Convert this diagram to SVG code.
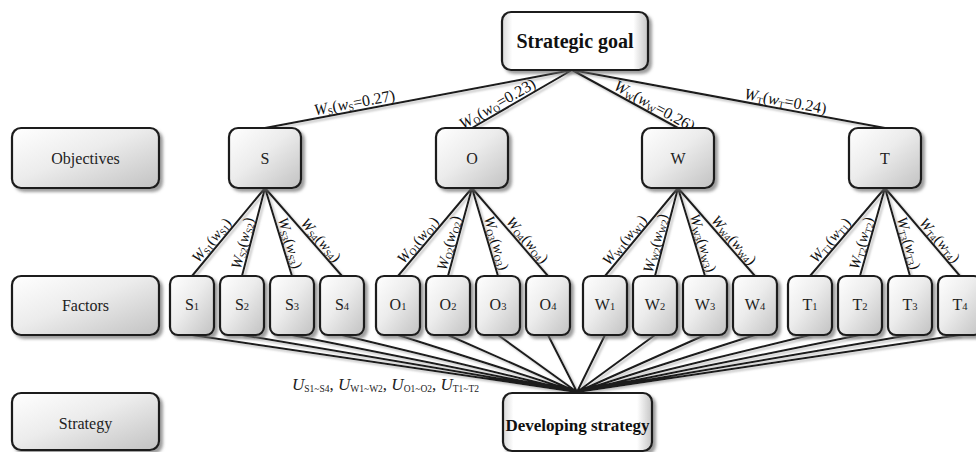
<svg xmlns="http://www.w3.org/2000/svg" width="976" height="452" viewBox="0 0 976 452">
<defs>
<linearGradient id="gg" x1="0" y1="0" x2="1" y2="1">
<stop offset="0" stop-color="#ffffff"/>
<stop offset="0.45" stop-color="#ececec"/>
<stop offset="1" stop-color="#c2c2c2"/>
</linearGradient>
<linearGradient id="wg" x1="0" y1="0" x2="1" y2="0">
<stop offset="0" stop-color="#d8d8d8"/>
<stop offset="0.07" stop-color="#ffffff"/>
<stop offset="0.9" stop-color="#ffffff"/>
<stop offset="1" stop-color="#c4c4c4"/>
</linearGradient>
<filter id="sh" x="-20%" y="-20%" width="140%" height="140%">
<feDropShadow dx="3" dy="3" stdDeviation="1.8" flood-color="#6a6a6a" flood-opacity="0.65"/>
</filter>
<filter id="lsh" x="-10%" y="-10%" width="120%" height="130%">
<feDropShadow dx="2" dy="2" stdDeviation="1.2" flood-color="#8a8a8a" flood-opacity="0.55"/>
</filter>
</defs>
<style>
.gb{fill:url(#gg);stroke:#1c1c1c;stroke-width:2.2;filter:url(#sh)}
.wb{fill:url(#wg);stroke:#1c1c1c;stroke-width:2.2;filter:url(#sh)}
.t{font-family:"Liberation Serif","Times New Roman",serif;fill:#222}
.nl{font-size:16px;text-anchor:middle}
.bd{font-weight:bold;fill:#111;text-anchor:middle}
.lb{font-family:"Liberation Serif","Times New Roman",serif;fill:#111;font-size:15px;text-anchor:middle}
.tl{font-size:16px}
.i{font-style:italic}
.sb{font-size:9.5px}
.fs{font-size:10.5px}
#connectors path{fill:none;stroke:#1c1c1c;stroke-width:2}
</style>
<rect width="976" height="452" fill="#ffffff"/>

<g id="connectors" filter="url(#lsh)">
<path d="M572,70 L265,128 M572,70 L472,128 M572,70 L678,128 M572,70 L885,128"/>
<path d="M265,188 L192,276 M265,188 L242,276 M265,188 L292,276 M265,188 L342,276"/>
<path d="M472,188 L398,276 M472,188 L448,276 M472,188 L498,276 M472,188 L548,276"/>
<path d="M678,188 L605,276 M678,188 L655,276 M678,188 L705,276 M678,188 L755,276"/>
<path d="M885,188 L810,276 M885,188 L860,276 M885,188 L910,276 M885,188 L960,276"/>
<path d="M192,335 L577,392 M242,335 L577,392 M292,335 L577,392 M342,335 L577,392 M398,335 L577,392 M448,335 L577,392 M498,335 L577,392 M548,335 L577,392 M605,335 L577,392 M655,335 L577,392 M705,335 L577,392 M755,335 L577,392 M810,335 L577,392 M860,335 L577,392 M910,335 L577,392 M960,335 L577,392"/>
</g>

<g id="edge-labels">
<text class="lb tl" transform="translate(355.4,107.9) rotate(-10.7)"><tspan class="i">W</tspan><tspan class="sb" dy="2">S</tspan><tspan dy="-2">(</tspan><tspan class="i">w</tspan><tspan class="sb" dy="2">S</tspan><tspan dy="-2">=0.27)</tspan></text>
<text class="lb tl" transform="translate(500,108.3) rotate(-30.1)"><tspan class="i">W</tspan><tspan class="sb" dy="2">O</tspan><tspan dy="-2">(</tspan><tspan class="i">w</tspan><tspan class="sb" dy="2">O</tspan><tspan dy="-2">=0.23)</tspan></text>
<text class="lb tl" transform="translate(652,110.4) rotate(28.7)"><tspan class="i">W</tspan><tspan class="sb" dy="2">W</tspan><tspan dy="-2">(</tspan><tspan class="i">w</tspan><tspan class="sb" dy="2">W</tspan><tspan dy="-2">=0.26)</tspan></text>
<text class="lb tl" transform="translate(784.5,106.4) rotate(10.5)"><tspan class="i">W</tspan><tspan class="sb" dy="2">T</tspan><tspan dy="-2">(</tspan><tspan class="i">w</tspan><tspan class="sb" dy="2">T</tspan><tspan dy="-2">=0.24)</tspan></text>

<text class="lb" transform="translate(215.2,243.3) rotate(-50.3)"><tspan class="i">W</tspan><tspan class="sb" dy="2">S1</tspan><tspan dy="-2">(</tspan><tspan class="i">w</tspan><tspan class="sb" dy="2">S1</tspan><tspan dy="-2">)</tspan></text>
<text class="lb" transform="translate(247.1,244.4) rotate(-75.3)"><tspan class="i">W</tspan><tspan class="sb" dy="2">S2</tspan><tspan dy="-2">(</tspan><tspan class="i">w</tspan><tspan class="sb" dy="2">S2</tspan><tspan dy="-2">)</tspan></text>
<text class="lb" transform="translate(285.4,244.3) rotate(72.9)"><tspan class="i">W</tspan><tspan class="sb" dy="2">S3</tspan><tspan dy="-2">(</tspan><tspan class="i">w</tspan><tspan class="sb" dy="2">S3</tspan><tspan dy="-2">)</tspan></text>
<text class="lb" transform="translate(317.3,243.2) rotate(48.8)"><tspan class="i">W</tspan><tspan class="sb" dy="2">S4</tspan><tspan dy="-2">(</tspan><tspan class="i">w</tspan><tspan class="sb" dy="2">S4</tspan><tspan dy="-2">)</tspan></text>

<text class="lb" transform="translate(421.6,243.3) rotate(-49.9)"><tspan class="i">W</tspan><tspan class="sb" dy="2">O1</tspan><tspan dy="-2">(</tspan><tspan class="i">w</tspan><tspan class="sb" dy="2">O1</tspan><tspan dy="-2">)</tspan></text>
<text class="lb" transform="translate(453.5,244.4) rotate(-74.7)"><tspan class="i">W</tspan><tspan class="sb" dy="2">O2</tspan><tspan dy="-2">(</tspan><tspan class="i">w</tspan><tspan class="sb" dy="2">O2</tspan><tspan dy="-2">)</tspan></text>
<text class="lb" transform="translate(491.8,244.4) rotate(73.5)"><tspan class="i">W</tspan><tspan class="sb" dy="2">O3</tspan><tspan dy="-2">(</tspan><tspan class="i">w</tspan><tspan class="sb" dy="2">O3</tspan><tspan dy="-2">)</tspan></text>
<text class="lb" transform="translate(523.7,243.2) rotate(49.2)"><tspan class="i">W</tspan><tspan class="sb" dy="2">O4</tspan><tspan dy="-2">(</tspan><tspan class="i">w</tspan><tspan class="sb" dy="2">O4</tspan><tspan dy="-2">)</tspan></text>

<text class="lb" transform="translate(628.2,243.3) rotate(-50.3)"><tspan class="i">W</tspan><tspan class="sb" dy="2">W1</tspan><tspan dy="-2">(</tspan><tspan class="i">w</tspan><tspan class="sb" dy="2">W1</tspan><tspan dy="-2">)</tspan></text>
<text class="lb" transform="translate(660.1,244.4) rotate(-75.3)"><tspan class="i">W</tspan><tspan class="sb" dy="2">W2</tspan><tspan dy="-2">(</tspan><tspan class="i">w</tspan><tspan class="sb" dy="2">W2</tspan><tspan dy="-2">)</tspan></text>
<text class="lb" transform="translate(698.4,244.3) rotate(72.9)"><tspan class="i">W</tspan><tspan class="sb" dy="2">W3</tspan><tspan dy="-2">(</tspan><tspan class="i">w</tspan><tspan class="sb" dy="2">W3</tspan><tspan dy="-2">)</tspan></text>
<text class="lb" transform="translate(730.3,243.2) rotate(48.8)"><tspan class="i">W</tspan><tspan class="sb" dy="2">W4</tspan><tspan dy="-2">(</tspan><tspan class="i">w</tspan><tspan class="sb" dy="2">W4</tspan><tspan dy="-2">)</tspan></text>

<text class="lb" transform="translate(834,243.3) rotate(-49.6)"><tspan class="i">W</tspan><tspan class="sb" dy="2">T1</tspan><tspan dy="-2">(</tspan><tspan class="i">w</tspan><tspan class="sb" dy="2">T1</tspan><tspan dy="-2">)</tspan></text>
<text class="lb" transform="translate(865.9,244.4) rotate(-74.1)"><tspan class="i">W</tspan><tspan class="sb" dy="2">T2</tspan><tspan dy="-2">(</tspan><tspan class="i">w</tspan><tspan class="sb" dy="2">T2</tspan><tspan dy="-2">)</tspan></text>
<text class="lb" transform="translate(904.1,244.4) rotate(74.1)"><tspan class="i">W</tspan><tspan class="sb" dy="2">T3</tspan><tspan dy="-2">(</tspan><tspan class="i">w</tspan><tspan class="sb" dy="2">T3</tspan><tspan dy="-2">)</tspan></text>
<text class="lb" transform="translate(936,243.3) rotate(49.6)"><tspan class="i">W</tspan><tspan class="sb" dy="2">T4</tspan><tspan dy="-2">(</tspan><tspan class="i">w</tspan><tspan class="sb" dy="2">T4</tspan><tspan dy="-2">)</tspan></text>

<text class="t" x="292" y="390" font-size="17"><tspan class="i">U</tspan><tspan font-size="9.5" dy="1.5">S1~S4</tspan><tspan dy="-1.5">, </tspan><tspan class="i">U</tspan><tspan font-size="9.5" dy="1.5">W1~W2</tspan><tspan dy="-1.5">, </tspan><tspan class="i">U</tspan><tspan font-size="9.5" dy="1.5">O1~O2</tspan><tspan dy="-1.5">, </tspan><tspan class="i">U</tspan><tspan font-size="9.5" dy="1.5">T1~T2</tspan></text>
</g>

<g id="goal"><rect class="wb" x="502" y="12" width="146" height="58" rx="9"/><text class="t bd" x="575" y="48" font-size="20">Strategic goal</text></g>

<g id="objectives-label"><rect class="gb" x="12" y="128" width="147" height="60" rx="9"/><text class="t nl" x="85.5" y="164">Objectives</text></g>
<g id="factors-label"><rect class="gb" x="12" y="276" width="147" height="59" rx="9"/><text class="t nl" x="85.5" y="311">Factors</text></g>
<g id="strategy-label"><rect class="gb" x="12" y="393" width="147" height="57" rx="9"/><text class="t nl" x="85.5" y="429">Strategy</text></g>

<g id="obj-S"><rect class="gb" x="229" y="128" width="72" height="60" rx="9"/><text class="t nl" x="265" y="164" font-size="15">S</text></g>
<g id="obj-O"><rect class="gb" x="436" y="128" width="72" height="60" rx="9"/><text class="t nl" x="472" y="164" font-size="15">O</text></g>
<g id="obj-W"><rect class="gb" x="642" y="128" width="72" height="60" rx="9"/><text class="t nl" x="678" y="164" font-size="15">W</text></g>
<g id="obj-T"><rect class="gb" x="849" y="128" width="72" height="60" rx="9"/><text class="t nl" x="885" y="164" font-size="15">T</text></g>

<g id="S1"><rect class="gb" x="170" y="276" width="44" height="59" rx="8"/><text class="t nl" x="192" y="310" font-size="16">S<tspan class="fs">1</tspan></text></g>
<g id="S2"><rect class="gb" x="220" y="276" width="44" height="59" rx="8"/><text class="t nl" x="242" y="310" font-size="16">S<tspan class="fs">2</tspan></text></g>
<g id="S3"><rect class="gb" x="270" y="276" width="44" height="59" rx="8"/><text class="t nl" x="292" y="310" font-size="16">S<tspan class="fs">3</tspan></text></g>
<g id="S4"><rect class="gb" x="320" y="276" width="44" height="59" rx="8"/><text class="t nl" x="342" y="310" font-size="16">S<tspan class="fs">4</tspan></text></g>
<g id="O1"><rect class="gb" x="376" y="276" width="44" height="59" rx="8"/><text class="t nl" x="398" y="310" font-size="16">O<tspan class="fs">1</tspan></text></g>
<g id="O2"><rect class="gb" x="426" y="276" width="44" height="59" rx="8"/><text class="t nl" x="448" y="310" font-size="16">O<tspan class="fs">2</tspan></text></g>
<g id="O3"><rect class="gb" x="476" y="276" width="44" height="59" rx="8"/><text class="t nl" x="498" y="310" font-size="16">O<tspan class="fs">3</tspan></text></g>
<g id="O4"><rect class="gb" x="526" y="276" width="44" height="59" rx="8"/><text class="t nl" x="548" y="310" font-size="16">O<tspan class="fs">4</tspan></text></g>
<g id="W1"><rect class="gb" x="583" y="276" width="44" height="59" rx="8"/><text class="t nl" x="605" y="310" font-size="16">W<tspan class="fs">1</tspan></text></g>
<g id="W2"><rect class="gb" x="633" y="276" width="44" height="59" rx="8"/><text class="t nl" x="655" y="310" font-size="16">W<tspan class="fs">2</tspan></text></g>
<g id="W3"><rect class="gb" x="683" y="276" width="44" height="59" rx="8"/><text class="t nl" x="705" y="310" font-size="16">W<tspan class="fs">3</tspan></text></g>
<g id="W4"><rect class="gb" x="733" y="276" width="44" height="59" rx="8"/><text class="t nl" x="755" y="310" font-size="16">W<tspan class="fs">4</tspan></text></g>
<g id="T1"><rect class="gb" x="788" y="276" width="44" height="59" rx="8"/><text class="t nl" x="810" y="310" font-size="16">T<tspan class="fs">1</tspan></text></g>
<g id="T2"><rect class="gb" x="838" y="276" width="44" height="59" rx="8"/><text class="t nl" x="860" y="310" font-size="16">T<tspan class="fs">2</tspan></text></g>
<g id="T3"><rect class="gb" x="888" y="276" width="44" height="59" rx="8"/><text class="t nl" x="910" y="310" font-size="16">T<tspan class="fs">3</tspan></text></g>
<g id="T4"><rect class="gb" x="938" y="276" width="44" height="59" rx="8"/><text class="t nl" x="960" y="310" font-size="16">T<tspan class="fs">4</tspan></text></g>

<g id="developing"><rect class="wb" x="503" y="393" width="149" height="58" rx="9"/><text class="t bd" x="577.5" y="431" font-size="17">Developing strategy</text></g>
</svg>
